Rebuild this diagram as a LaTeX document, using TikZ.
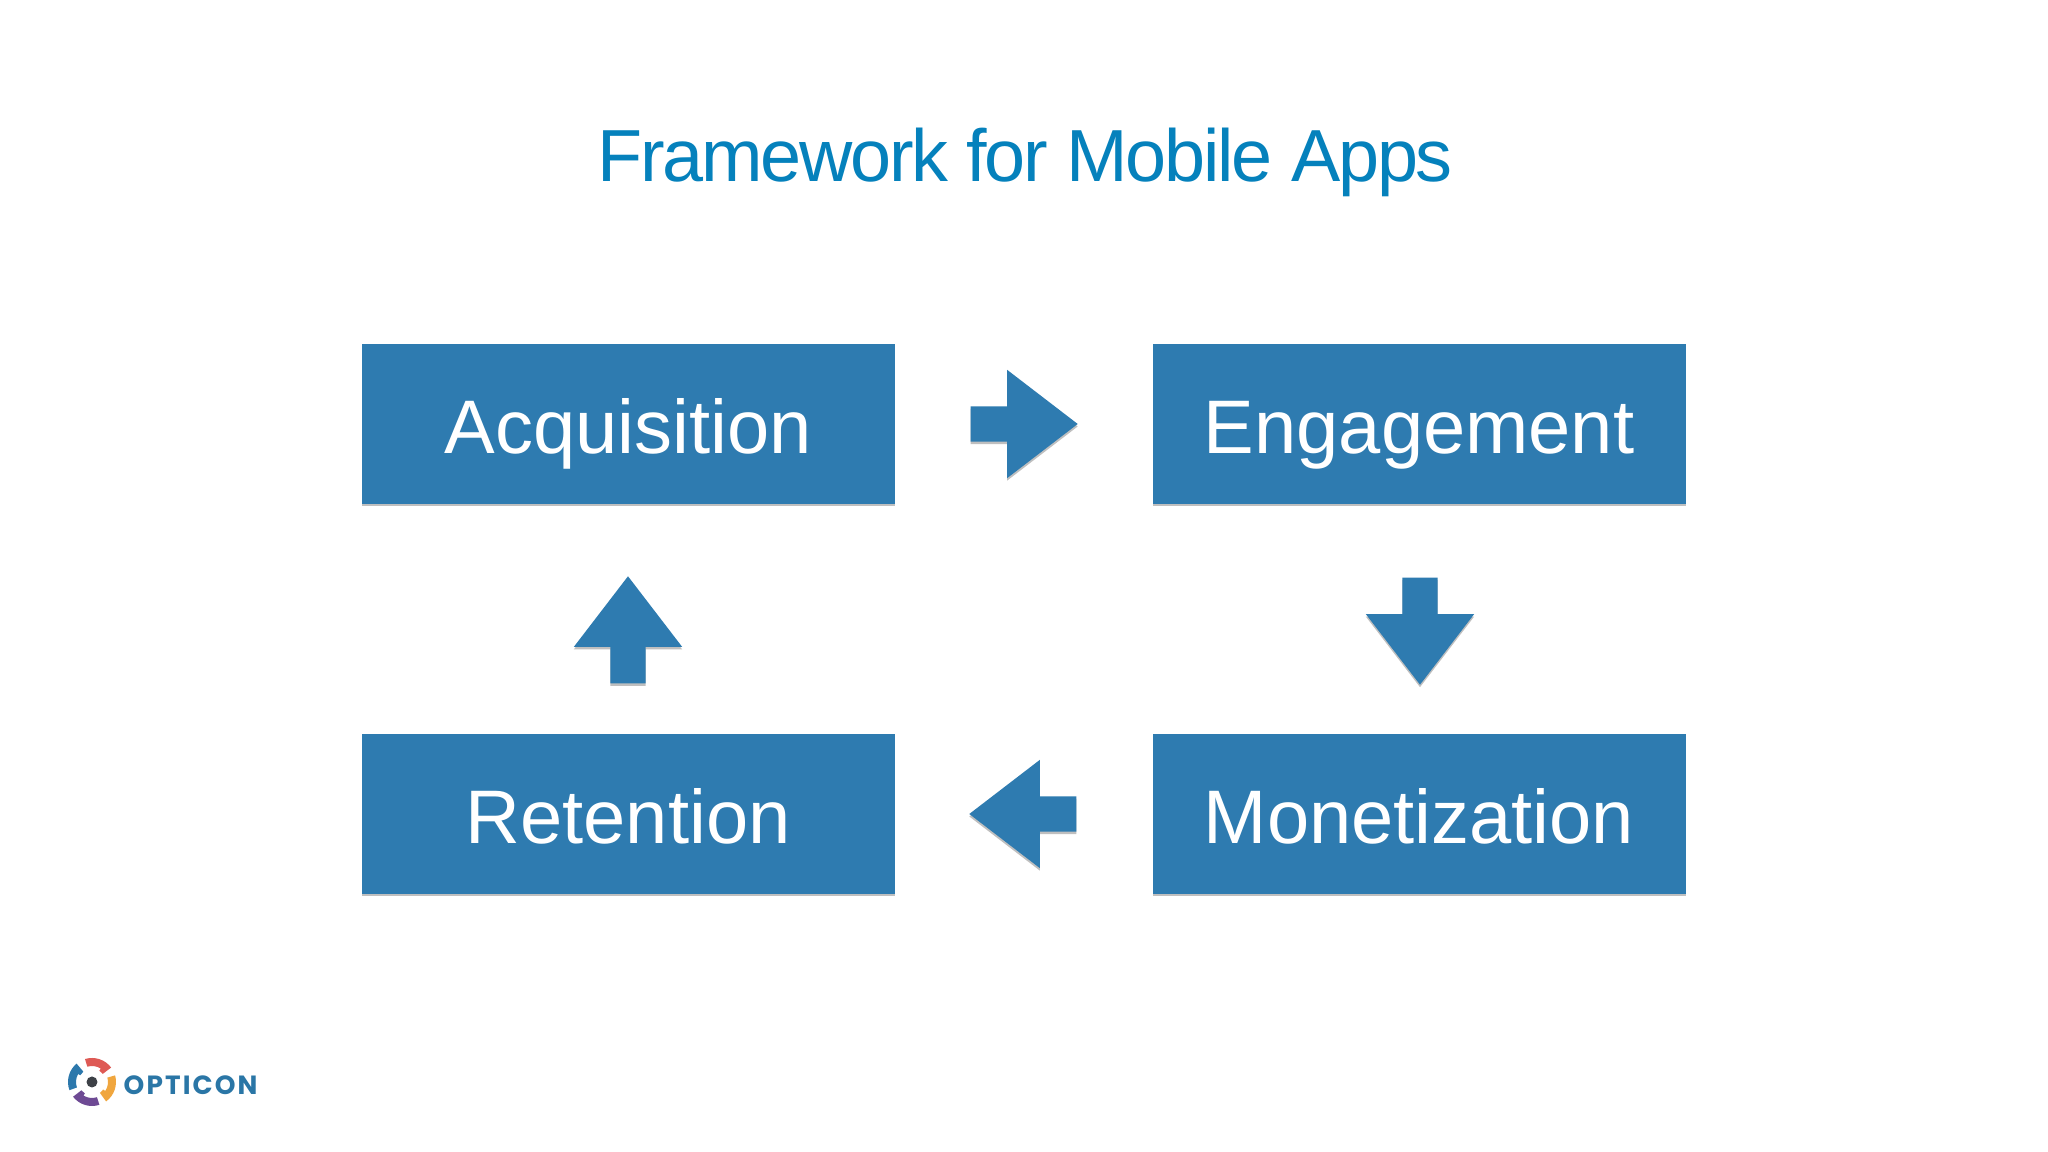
\documentclass[tikz,border=0pt]{standalone}
\usepackage{fontspec}
\setmainfont{Liberation Sans}
\newfontfamily\logofont[LetterSpace=8]{Poppins}
\newfontfamily\lightfont[FakeBold=-0.6]{Liberation Sans}
\usetikzlibrary{shapes.arrows,shadows}
\definecolor{boxblue}{HTML}{2E7BB0}
\definecolor{titleblue}{HTML}{0581BC}
\definecolor{logotext}{HTML}{2A76A6}
\definecolor{logored}{HTML}{DE5A55}
\definecolor{logoblue}{HTML}{2C78AC}
\definecolor{logopurple}{HTML}{6E4A94}
\definecolor{logoorange}{HTML}{F0A63E}
\definecolor{logodark}{HTML}{3D4147}
\tikzset{
	softshadow/.style={drop shadow={shadow xshift=0cm,shadow yshift=-.025cm,opacity=.25,fill=black}},
	stagebox/.style={fill=boxblue,text=white,inner sep=0,minimum width=5.33cm,minimum height=1.6cm,
		text height=.8cm,text depth=.2cm,font=\lightfont\fontsize{21.6}{26}\selectfont,softshadow},
	flowarrow/.style={single arrow,fill=boxblue,inner sep=.17cm,minimum width=1.07cm,minimum height=1.07cm,
		single arrow head extend=.365cm,single arrow tip angle=75,anchor=tail,softshadow}
}
\begin{document}
\begin{tikzpicture}
	\useasboundingbox[fill=white] (0,0) rectangle (20.48,11.52);
	% title
		\node[text=titleblue,font=\fontsize{21}{25}\selectfont\addfontfeature{LetterSpace=-3}] (title) at (10.25,9.90) {Framework for Mobile Apps};
	% stages
		\node[stagebox] (acquisition) at (6.28,7.28) {Acquisition};
		\node[stagebox] (engagement) at (14.19,7.28) {Engagement};
		\node[stagebox] (monetization) at (14.19,3.38) {Monetization};
		\node[stagebox] (retention) at (6.28,3.38) {Retention};
	% flow
		\node[flowarrow] (acqarrow) at (9.70,7.28) {};
		\node[flowarrow,shape border rotate=270] (engarrow) at (14.20,5.75) {};
		\node[flowarrow,shape border rotate=180] (monarrow) at (10.77,3.38) {};
		\node[flowarrow,shape border rotate=90] (retarrow) at (6.28,4.68) {};
	% logo
		\foreach \a/\c in {37/logored,130/logoblue,218/logopurple,306/logoorange}{
			\fill[\c,shift={(.92,.70)}] (\a:.24) arc (\a:\a+70:.24) -- (\a+70:.16) arc (\a+70:\a+20:.16)
				-- (\a+20:.135) arc (\a+20:\a:.135) -- cycle;
		}
		\fill[logodark] (.92,.70) circle (.055);
		\node[text=logotext,anchor=west,inner sep=0,font=\logofont\bfseries\fontsize{7.5}{9}\selectfont] (logotext) at (1.23,.67) {OPTICON};
\end{tikzpicture}
\end{document}
